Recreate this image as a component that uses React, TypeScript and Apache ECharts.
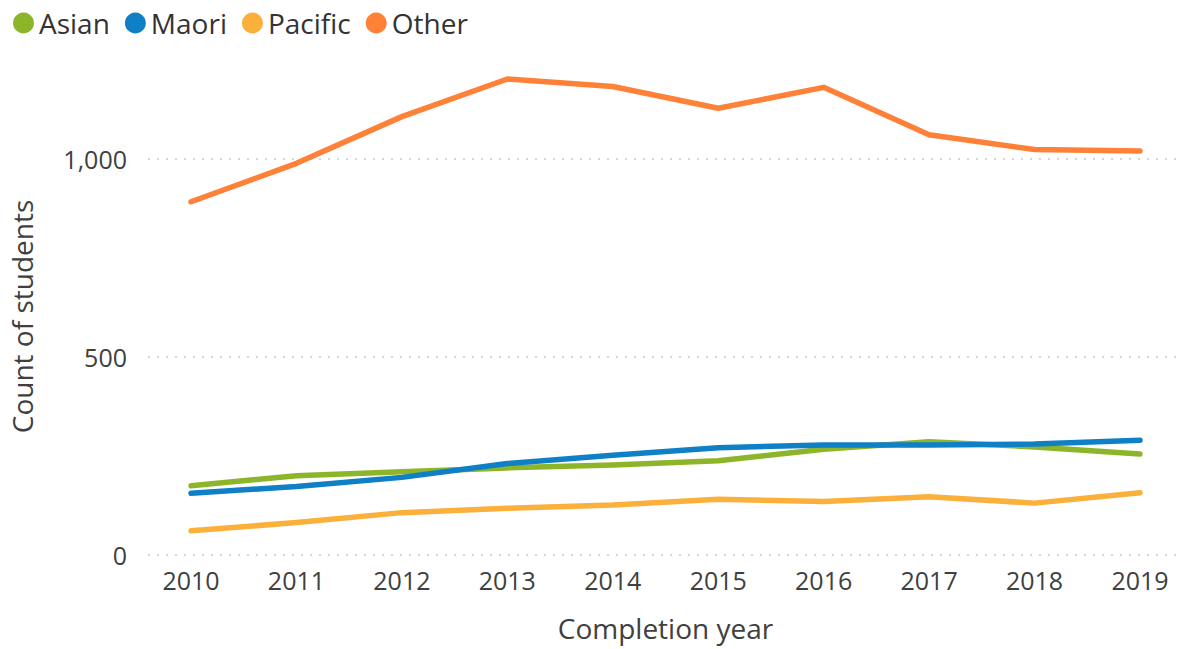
import React, { useEffect, useRef } from "react";
import * as echarts from "echarts";

const years = ["2010", "2011", "2012", "2013", "2014", "2015", "2016", "2017", "2018", "2019"];
const asian = [175, 200, 210, 220, 227, 238, 267, 286, 273, 255];
const maori = [156, 173, 196, 231, 252, 271, 278, 278, 280, 290];
const pacific = [61, 82, 107, 118, 126, 141, 135, 147, 131, 157];
const other = [892, 989, 1107, 1202, 1183, 1128, 1181, 1061, 1024, 1020];
const yTicks = [0, 500, 1000];

const FONT = "'Segoe UI', 'Open Sans', sans-serif";

export default function App() {
  const ref = useRef<HTMLDivElement>(null);
  useEffect(() => {
    if (!ref.current) return;
    const chart = echarts.init(ref.current, null, { renderer: "svg" });
    const mk = (name: string, data: number[], color: string) => ({
      name,
      type: "line",
      xAxisIndex: 1,
      yAxisIndex: 1,
      data,
      showSymbol: false,
      symbol: "none",
      lineStyle: { width: 5.5, color, cap: "round", join: "round" },
      itemStyle: { color },
    });
    chart.setOption({
      animation: false,
      textStyle: { fontFamily: FONT },
      legend: {
        left: 8,
        top: 4,
        icon: "circle",
        itemWidth: 21,
        itemHeight: 21,
        itemGap: 15,
        textStyle: { fontSize: 28, color: "#333333", fontFamily: FONT },
        data: ["Asian", "Maori", "Pacific", "Other"],
      },
      grid: [
        { left: 148, right: 0, top: 60, bottom: 94 },
        { left: 191, right: 41, top: 60, bottom: 94 },
      ],
      xAxis: [
        { gridIndex: 0, type: "category", data: years, boundaryGap: false, show: false },
        {
          gridIndex: 1,
          type: "category",
          data: years,
          boundaryGap: false,
          axisLine: { show: false },
          axisTick: { show: false },
          splitLine: { show: false },
          axisLabel: { fontSize: 25, color: "#404040", margin: 12, fontFamily: FONT },
          name: "Completion year",
          nameLocation: "middle",
          nameGap: 59,
          nameTextStyle: { fontSize: 28, color: "#404040", fontFamily: FONT },
        },
      ],
      yAxis: [
        {
          gridIndex: 0,
          type: "value",
          min: 0,
          max: 1250,
          interval: 250,
          axisLine: { show: false },
          axisTick: { show: false },
          axisLabel: {
            fontSize: 25,
            color: "#404040",
            margin: 21,
            fontFamily: FONT,
            formatter: (v: number) => (yTicks.includes(v) ? v.toLocaleString("en-US") : ""),
          },
          splitLine: {
            show: true,
            lineStyle: { color: ["#C8C8C8", "rgba(0,0,0,0)"], width: 1.5, type: [2, 7] },
          },
          name: "Count of students",
          nameLocation: "middle",
          nameGap: 112,
          nameTextStyle: { fontSize: 28, color: "#404040", fontFamily: FONT, padding: [0, 18, 0, 0] },
        },
        { gridIndex: 1, type: "value", min: 0, max: 1250, show: false, splitLine: { show: false } },
      ],
      series: [
        mk("Asian", asian, "#8DB52A"),
        mk("Maori", maori, "#0F7FC6"),
        mk("Pacific", pacific, "#FBB03B"),
        mk("Other", other, "#FE8137"),
      ],
    });
    return () => chart.dispose();
  }, []);
  return (
    <div
      ref={ref}
      style={{ position: "absolute", left: 0, top: 0, width: 1181, height: 649, background: "#fff" }}
    />
  );
}
